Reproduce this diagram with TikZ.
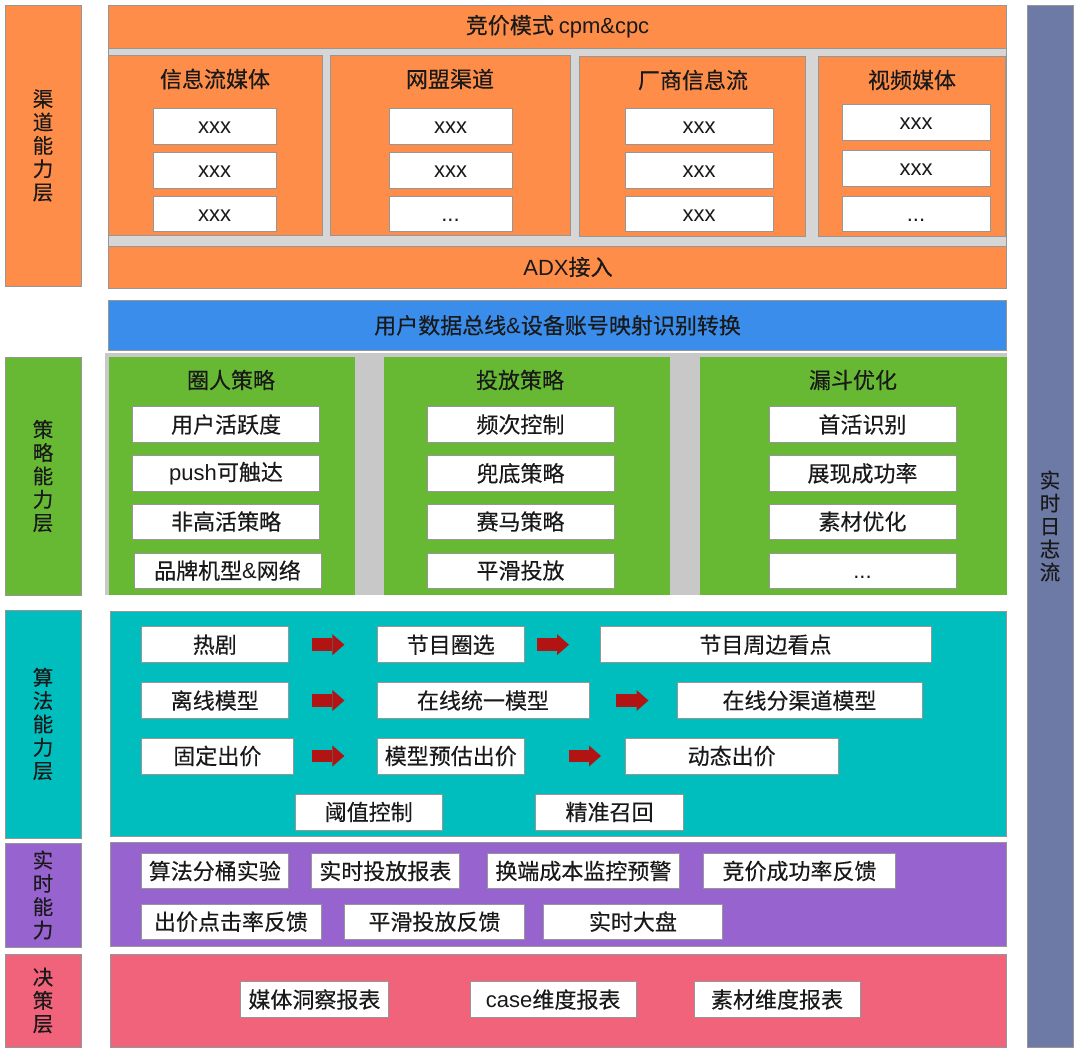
\documentclass[tikz,border=0pt]{standalone}
\usepackage{fontspec}
\setmainfont[FakeBold=0.3]{Noto Sans CJK SC}
\newfontfamily\lat{Liberation Sans}
\usetikzlibrary{arrows.meta}
\definecolor{cOrange}{RGB}{253,141,72}
\definecolor{cSep}{RGB}{214,214,214}
\definecolor{cSepB}{RGB}{200,200,200}
\definecolor{cBlue}{RGB}{58,141,234}
\definecolor{cGreen}{RGB}{103,185,52}
\definecolor{cTeal}{RGB}{0,189,190}
\definecolor{cPurple}{RGB}{151,99,206}
\definecolor{cPink}{RGB}{240,99,122}
\definecolor{cSlate}{RGB}{108,122,165}
\definecolor{cLine}{RGB}{150,150,150}
\definecolor{cArrow}{RGB}{178,20,20}
\definecolor{cTxt}{RGB}{25,25,25}
\newcommand\bx[7]{\node[#1, minimum width={(#5-#3)*1pt}, minimum height={(#6-#4)*1pt}] (#2) at ({(#3+#5)/2},{-(#4+#6)/2}) {#7};}
\tikzset{
  base/.style={inner sep=0pt, outer sep=0pt, line width=0.7pt, text=cTxt},
  layer/.style={base, draw=cLine},
  wbox/.style={base, draw=cLine, fill=white, font=\fontsize{22}{24}\selectfont},
  ttl/.style={inner sep=0pt, text=cTxt, font=\fontsize{22}{24}\selectfont},
  vlab/.style={layer, align=center, font=\fontsize{20.5}{23.3}\selectfont},
  redarrow/.style={line width=12.7pt, draw=cArrow, -{Triangle[length=12pt,width=21pt,line width=0pt]}}
}
\begin{document}
\begin{tikzpicture}[x=1pt,y=1pt]
\useasboundingbox[fill=white] (0,0) rectangle (1080,-1054);
% ---- left labels
\bx{vlab, fill=cOrange}{L1}{5}{5}{81}{286}{渠\\道\\能\\力\\层}
\bx{vlab, fill=cGreen}{L2}{5}{357}{81}{595}{策\\略\\能\\力\\层}
\bx{vlab, fill=cTeal}{L3}{5}{610}{81}{838}{算\\法\\能\\力\\层}
\bx{vlab, fill=cPurple}{L4}{5}{843}{81}{947}{实\\时\\能\\力}
\bx{vlab, fill=cPink}{L5}{5}{954}{81}{1047}{决\\策\\层}
% ---- right label
\bx{vlab, fill=cSlate, font=\fontsize{20.5}{23}\selectfont}{R}{1027}{5}{1073}{1047}{实\\时\\日\\志\\流}
% ---- channel layer
\bx{layer, fill=cSep}{chbg}{108.5}{5}{1006.6}{288}{}
\bx{layer, fill=cOrange, font=\fontsize{22}{24}\selectfont}{bid}{108.5}{5}{1006.6}{48}{竞价模式 {\lat cpm\&cpc}}
\bx{layer, fill=cOrange}{ch1}{108.5}{55}{322}{235}{}
\bx{layer, fill=cOrange}{ch2}{330.6}{55}{570}{235}{}
\bx{layer, fill=cOrange}{ch3}{579.6}{56}{805}{236}{}
\bx{layer, fill=cOrange}{ch4}{818}{56}{1005.6}{236}{}
\node[ttl] (t1) at (215,-79) {信息流媒体};
\node[ttl] (t2) at (450,-79) {网盟渠道};
\node[ttl] (t3) at (693,-80) {厂商信息流};
\node[ttl] (t4) at (912,-80) {视频媒体};
\bx{wbox}{c11}{153}{108}{276}{144}{\lat xxx\vphantom{X}}
\bx{wbox}{c12}{153}{152}{276}{188}{\lat xxx\vphantom{X}}
\bx{wbox}{c13}{153}{196}{276}{231}{\lat xxx\vphantom{X}}
\bx{wbox}{c21}{389}{108}{512}{144}{\lat xxx\vphantom{X}}
\bx{wbox}{c22}{389}{152}{512}{188}{\lat xxx\vphantom{X}}
\bx{wbox}{c23}{389}{196}{512}{231}{\lat ...\vphantom{X}}
\bx{wbox}{c31}{625}{108}{773}{144}{\lat xxx\vphantom{X}}
\bx{wbox}{c32}{625}{152}{773}{188}{\lat xxx\vphantom{X}}
\bx{wbox}{c33}{625}{196}{773}{231}{\lat xxx\vphantom{X}}
\bx{wbox}{c41}{842}{104}{990}{140}{\lat xxx\vphantom{X}}
\bx{wbox}{c42}{842}{150}{990}{186}{\lat xxx\vphantom{X}}
\bx{wbox}{c43}{842}{196}{990}{231}{\lat ...\vphantom{X}}
\bx{layer, fill=cOrange}{adx}{108.5}{246}{1006.6}{288}{}
\node[ttl] (adxt) at (568,-267) {{\lat ADX}接入};
% ---- bus
\bx{layer, fill=cBlue, font=\fontsize{22}{24}\selectfont}{bus}{108.5}{300.7}{1006.6}{350}{用户数据总线{\lat\&}设备账号映射识别转换}
% ---- strategy layer
\bx{base, fill=cSepB}{stbg}{105}{353}{1006.6}{595}{}
\bx{base, fill=cGreen}{strat}{108.5}{356.7}{1006.6}{595}{}
\bx{base, fill=cSepB}{sepA}{354.7}{356.7}{384}{595}{}
\bx{base, fill=cSepB}{sepB}{670}{356.7}{700}{595}{}
\node[ttl] (s1) at (231,-380) {圈人策略};
\node[ttl] (s2) at (520,-380) {投放策略};
\node[ttl] (s3) at (853,-380) {漏斗优化};
\bx{wbox}{p11}{132.6}{406.7}{319.6}{442.3}{用户活跃度}
\bx{wbox}{p12}{132.6}{455.7}{319.6}{491}{{\lat push}可触达}
\bx{wbox}{p13}{132.6}{504}{319.6}{539}{非高活策略}
\bx{wbox}{p14}{134}{553}{321}{588}{品牌机型{\lat\&}网络}
\bx{wbox}{p21}{427}{406.7}{614}{442.3}{频次控制}
\bx{wbox}{p22}{427}{455.7}{614}{491}{兜底策略}
\bx{wbox}{p23}{427}{504}{614}{539}{赛马策略}
\bx{wbox}{p24}{427}{553}{614}{588}{平滑投放}
\bx{wbox}{p31}{769}{406.7}{956}{442.3}{首活识别}
\bx{wbox}{p32}{769}{455.7}{956}{491}{展现成功率}
\bx{wbox}{p33}{769}{504}{956}{539}{素材优化}
\bx{wbox}{p34}{769}{553}{956}{588}{\lat ...\vphantom{X}}
% ---- algorithm layer
\bx{layer, fill=cTeal}{algo}{110}{611.7}{1006.6}{836}{}
\bx{wbox}{a11}{141}{626.7}{288.6}{662.7}{热剧}
\bx{wbox}{a12}{377}{626.7}{524.5}{662.7}{节目圈选}
\bx{wbox}{a13}{600}{626.7}{931}{662.7}{节目周边看点}
\bx{wbox}{a21}{141}{682.7}{288.6}{718.3}{离线模型}
\bx{wbox}{a22}{377}{682.7}{589}{718.3}{在线统一模型}
\bx{wbox}{a23}{677}{682.7}{922}{718.3}{在线分渠道模型}
\bx{wbox}{a31}{141}{738}{293.7}{774}{固定出价}
\bx{wbox}{a32}{377}{738}{524.5}{774}{模型预估出价}
\bx{wbox}{a33}{625.4}{738}{837.9}{774}{动态出价}
\bx{wbox}{a41}{295}{794}{442.5}{830}{阈值控制}
\bx{wbox}{a42}{535.5}{794}{683.6}{830}{精准召回}
\draw[redarrow, shorten <=23pt, shorten >=32.6pt] (a11.east) -- (a12.west);
\draw[redarrow, shorten <=12.5pt, shorten >=31pt] (a12.east) -- (a13.west);
\draw[redarrow, shorten <=23pt, shorten >=32.6pt] (a21.east) -- (a22.west);
\draw[redarrow, shorten <=27.4pt, shorten >=28.5pt] (a22.east) -- (a23.west);
\draw[redarrow, shorten <=17.9pt, shorten >=32.6pt] (a31.east) -- (a32.west);
\draw[redarrow, shorten <=44.5pt, shorten >=24.4pt] (a32.east) -- (a33.west);
% ---- realtime layer
\bx{layer, fill=cPurple}{rt}{110}{842.7}{1006.6}{946.7}{}
\bx{wbox}{r11}{141}{853.3}{288.6}{888.7}{算法分桶实验}
\bx{wbox}{r12}{311.6}{853.3}{459}{888.7}{实时投放报表}
\bx{wbox}{r13}{487.3}{853.3}{679.5}{888.7}{换端成本监控预警}
\bx{wbox}{r14}{703.6}{853.3}{895.4}{888.7}{竞价成功率反馈}
\bx{wbox}{r21}{141}{904}{321}{939.3}{出价点击率反馈}
\bx{wbox}{r22}{344.4}{904}{524.5}{939.3}{平滑投放反馈}
\bx{wbox}{r23}{543.4}{904}{722.5}{939.3}{实时大盘}
% ---- decision layer
\bx{layer, fill=cPink}{dec}{110}{954}{1006.6}{1047.3}{}
\bx{wbox}{d1}{240.4}{981.7}{388.4}{1017.3}{媒体洞察报表}
\bx{wbox}{d2}{470}{981.7}{636.4}{1017.3}{{\lat case}维度报表}
\bx{wbox}{d3}{694}{981.7}{860}{1017.3}{素材维度报表}
\end{tikzpicture}
\end{document}
